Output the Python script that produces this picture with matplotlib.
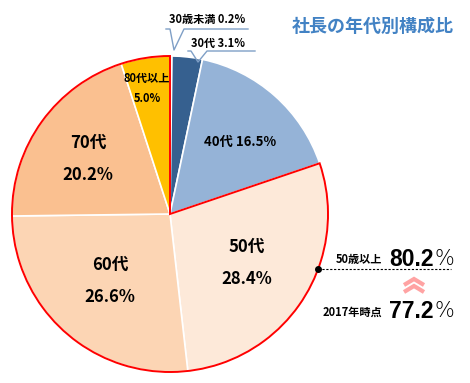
import matplotlib
matplotlib.use("Agg")
import matplotlib.pyplot as plt
from matplotlib.patches import Wedge
import numpy as np

plt.rcParams['font.family'] = ['Noto Sans CJK JP', 'DejaVu Sans']

# data
ages = ['30歳未満', '30代', '40代', '50代', '60代', '70代', '80代以上']
shares = [0.2, 3.1, 16.5, 28.4, 26.6, 20.2, 5.0]
colors = ['#B9CDE5', '#36608F', '#95B3D7', '#FDE9D9', '#FCD5B4', '#FAC090', '#FFC000']
title = '社長の年代別構成比'
over50_now = 80.2
over50_2017 = 77.2

W, H = 470, 383
fig = plt.figure(figsize=(W / 100, H / 100), dpi=100)
ax = fig.add_axes([0, 0, 1, 1])

def Y(y):
    # pixel row -> data y
    return H - y

cx, cy, R = 170, Y(214), 158
wedges, _ = ax.pie(shares, colors=colors, startangle=90, counterclock=False,
                   center=(cx, cy), radius=R,
                   wedgeprops=dict(edgecolor='white', linewidth=1.2))
ax.set_xlim(0, W)
ax.set_ylim(0, H)
ax.set_aspect('equal')
ax.axis('off')

# red outline around the 50+ group
start50 = 90 - sum(shares[:3]) / 100 * 360
ax.add_patch(Wedge((cx, cy), R, 90, start50 + 360, fill=False,
                   edgecolor='red', linewidth=1.4, zorder=5))

# in-slice labels
bold = dict(fontweight='bold', color='black', ha='center', va='center')
ax.text(240, Y(142), f'{ages[2]} {shares[2]}%', fontsize=9.5, **bold)
ax.text(247, Y(247), ages[3], fontsize=12, **bold)
ax.text(247, Y(279), f'{shares[3]}%', fontsize=12, **bold)
ax.text(110, Y(265), ages[4], fontsize=12, **bold)
ax.text(110, Y(297), f'{shares[4]}%', fontsize=12, **bold)
ax.text(88, Y(143), ages[5], fontsize=12, **bold)
ax.text(88, Y(175), f'{shares[5]}%', fontsize=12, **bold)
ax.text(147, Y(78), ages[6], fontsize=8, **bold)
ax.text(147, Y(98), f'{shares[6]}%', fontsize=8, **bold)

# callouts for the small slices
cl = '#7F9FC6'
ax.plot([166, 170, 174, 184, 248], [Y(29), Y(29), Y(50), Y(29), Y(29)],
        color=cl, lw=1)
ax.text(207, Y(20), f'{ages[0]} {shares[0]}%', fontsize=8, **bold)
ax.plot([188, 191, 198, 207, 255], [Y(51), Y(51), Y(62), Y(51), Y(51)],
        color=cl, lw=1)
ax.text(218, Y(43), f'{ages[1]} {shares[1]}%', fontsize=8, **bold)

# title
ax.text(373, Y(26), title, fontsize=13, fontweight='bold', color='#4282C4',
        ha='center', va='center')

# 50+ annotation
ang = np.deg2rad(-20.3)
px, py = cx + R * np.cos(ang), cy + R * np.sin(ang)
ax.plot([px, 451], [py, py], color='black', lw=0.8, ls=(0, (2, 1.5)), zorder=6)
ax.plot(px, py, 'o', color='black', ms=4, zorder=7)

ax.text(382, Y(260), '50歳以上', fontsize=8, fontweight='bold', ha='right', va='center')
ax.text(389, Y(259), f'{over50_now}', fontsize=16.5, fontweight='bold',
        family='Liberation Sans', ha='left', va='center')
ax.text(435, Y(259), '%', fontsize=15, family='DejaVu Sans', fontweight='light',
        ha='left', va='center')
ax.text(382, Y(312), '2017年時点', fontsize=8, fontweight='bold', ha='right', va='center')
ax.text(389, Y(311), f'{over50_2017}', fontsize=16.5, fontweight='bold',
        family='Liberation Sans', ha='left', va='center')
ax.text(435, Y(311), '%', fontsize=15, family='DejaVu Sans', fontweight='light',
        ha='left', va='center')

# up chevrons
for y0 in (285, 292):
    ax.plot([404, 414, 424], [Y(y0), Y(y0 - 6), Y(y0)], color='#FFA3A3',
            lw=3, solid_capstyle='butt', solid_joinstyle='miter')

fig.savefig('out.png', dpi=100)
